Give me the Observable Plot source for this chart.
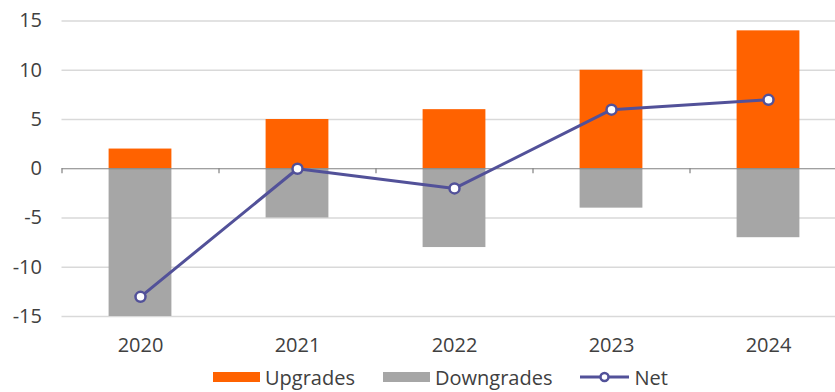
<!DOCTYPE html>
<html>
<head>
<meta charset="utf-8">
<script src="https://cdn.jsdelivr.net/npm/d3@7"></script>
<script src="https://cdn.jsdelivr.net/npm/@observablehq/plot@0.6"></script>
<style>
  body { margin: 0; background: #fff; font-family: "Open Sans", sans-serif; }
  #legend { display: flex; align-items: center; margin-left: 213px; height: 30px; font-size: 20px; color: #404040; }
  .item { display: flex; align-items: center; margin-right: 28px; }
  .sw { width: 47px; height: 10px; margin-right: 5px; }
  svg.ln { margin-right: 5px; }
</style>
</head>
<body>
<div id="chart"></div>
<div id="legend"></div>
<script>
const years = ["2020", "2021", "2022", "2023", "2024"];
const upgrades = [2, 5, 6, 10, 14];
const downgrades = [-15, -5, -8, -4, -7];
const net = [-13, 0, -2, 6, 7];
const yTicks = [-15, -10, -5, 0, 5, 10, 15];

const orange = "#FF6200";
const gray = "#A6A6A6";
const purple = "#525199";

const data = years.map((y, i) => ({i, year: y, up: upgrades[i], down: downgrades[i], net: net[i]}));
const boundaries = d3.range(years.length + 1).map(k => k - 0.5);

const chart = Plot.plot({
  width: 835,
  height: 362,
  marginLeft: 61.5,
  marginRight: 0,
  marginTop: 20.5,
  marginBottom: 46,
  style: {fontFamily: "Open Sans, sans-serif", fontSize: "20px", color: "#404040", background: "#fff"},
  x: {domain: [-0.5, years.length - 0.5], range: [61.5, 61.5 + 157 * years.length]},
  y: {domain: [-15, 15]},
  marks: [
    Plot.ruleY(yTicks.filter(t => t !== 0), {stroke: "#d9d9d9", strokeWidth: 1.3}),
    Plot.rectY(data, {x1: d => d.i - 0.2, x2: d => d.i + 0.2, y1: 0, y2: "up", fill: orange}),
    Plot.rectY(data, {x1: d => d.i - 0.2, x2: d => d.i + 0.2, y1: 0, y2: "down", fill: gray}),
    Plot.ruleY([0], {stroke: "#808080", strokeWidth: 1.2}),
    Plot.ruleX(boundaries, {x: d => d, y1: 0, y2: -0.5, stroke: "#808080", strokeWidth: 1.2}),
    Plot.line(data, {x: "i", y: "net", stroke: purple, strokeWidth: 3}),
    Plot.dot(data, {x: "i", y: "net", r: 5, fill: "white", stroke: purple, strokeWidth: 2.5}),
    Plot.axisY({ticks: yTicks, tickFormat: d => String(d), tickSize: 0, tickPadding: 20, label: null, fontSize: 20}),
    Plot.axisX({ticks: d3.range(years.length), tickFormat: i => years[i], tickSize: 0, tickPadding: 21, label: null, fontSize: 20})
  ]
});
document.getElementById("chart").appendChild(chart);

const legend = document.getElementById("legend");
const items = [
  {label: "Upgrades", type: "box", color: orange},
  {label: "Downgrades", type: "box", color: gray},
  {label: "Net", type: "line", color: purple}
];
for (const it of items) {
  const div = document.createElement("div");
  div.className = "item";
  if (it.type === "box") {
    const s = document.createElement("span");
    s.className = "sw";
    s.style.background = it.color;
    div.appendChild(s);
  } else {
    div.insertAdjacentHTML("beforeend",
      `<svg class="ln" width="49" height="14"><line x1="0" x2="49" y1="7" y2="7" stroke="${it.color}" stroke-width="3"/><circle cx="24.5" cy="7" r="4" fill="white" stroke="${it.color}" stroke-width="2.5"/></svg>`);
  }
  const t = document.createElement("span");
  t.textContent = it.label;
  div.appendChild(t);
  legend.appendChild(div);
}
</script>
</body>
</html>
